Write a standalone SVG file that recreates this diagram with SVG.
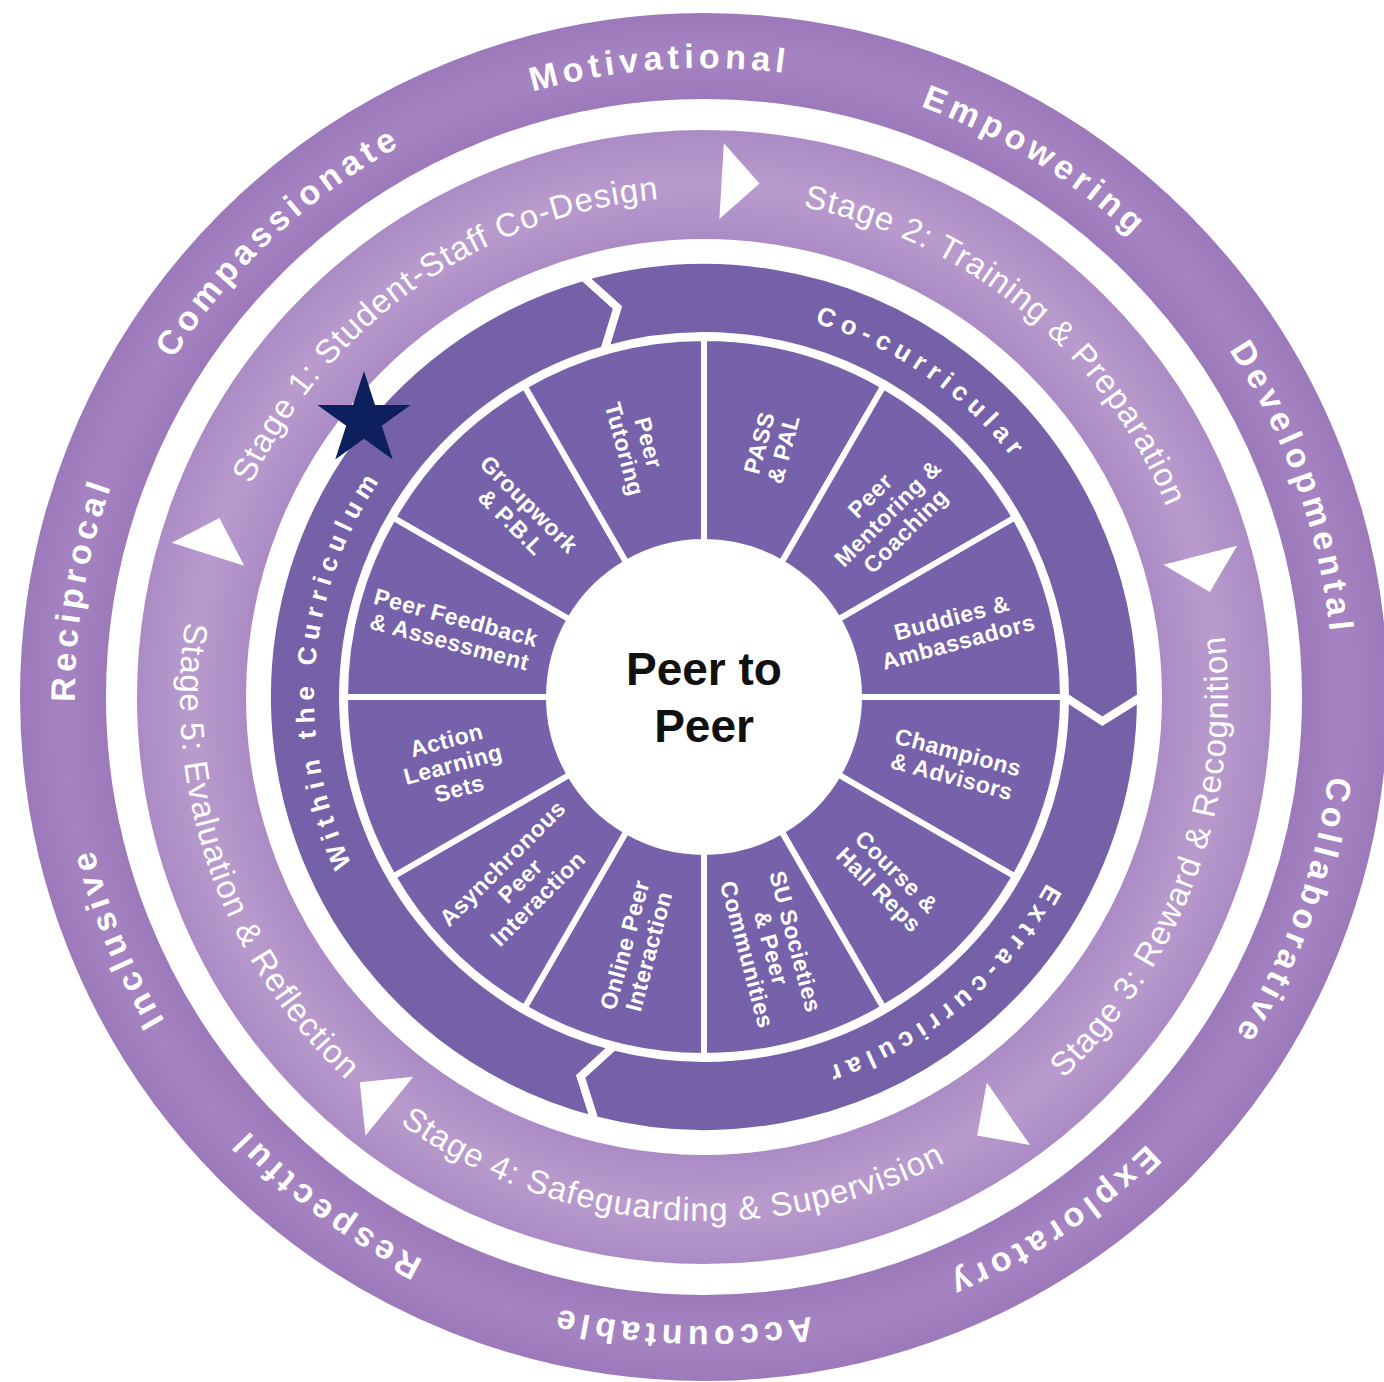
<svg xmlns="http://www.w3.org/2000/svg" width="1384" height="1382" viewBox="0 0 1384 1382">
  <defs>
    <radialGradient id="gOuter" gradientUnits="userSpaceOnUse" cx="704" cy="697" r="684">
      <stop offset="0.874" stop-color="#9c79ba"/>
      <stop offset="0.937" stop-color="#a683c1"/>
      <stop offset="1" stop-color="#9c79ba"/>
    </radialGradient>
    <radialGradient id="gStage" gradientUnits="userSpaceOnUse" cx="704" cy="697" r="567">
      <stop offset="0.808" stop-color="#ab8bc5"/>
      <stop offset="0.904" stop-color="#b99bcd"/>
      <stop offset="1" stop-color="#ab8bc5"/>
    </radialGradient>
    <!-- text baselines: clockwise = letters upright outward, anticlockwise = letters upright inward -->
    <path id="outerPath" d="M704 68 A629 629 0 1 1 704 1326 A629 629 0 1 1 704 68 A629 629 0 1 1 704 1326 A629 629 0 1 1 704 68"/>
    <path id="stageCW" d="M704 197 A500 500 0 1 1 704 1197 A500 500 0 1 1 704 197"/>
    <path id="stageCCW" d="M704 173 A524 524 0 1 0 704 1221 A524 524 0 1 0 704 173"/>
    <path id="curPath" d="M704 307 A390 390 0 1 1 704 1087 A390 390 0 1 1 704 307"/>
  </defs>
  <style>
    .val { font-family: "Liberation Sans", Arial, sans-serif; font-weight: bold; font-size: 34px; letter-spacing: 5px; fill: #ffffff; }
    .stg { font-family: "Liberation Sans", Arial, sans-serif; font-size: 33px; letter-spacing: 1px; fill: #ffffff; }
    .cur { font-family: "Liberation Sans", Arial, sans-serif; font-weight: bold; font-size: 26px; letter-spacing: 6.5px; fill: #ffffff; }
    .band { fill: #7461a8; stroke: #ffffff; stroke-width: 8; stroke-linejoin: miter; }
    .seg { fill: #7562aa; stroke: #ffffff; stroke-width: 6; }
    .seg-label { font-family: "Liberation Sans", Arial, sans-serif; font-weight: bold; font-size: 23px; letter-spacing: 0.5px; fill: #ffffff; text-anchor: middle; }
    .arrow { fill: #ffffff; }
    .hub { font-family: "Liberation Sans", Arial, sans-serif; font-weight: bold; font-size: 46px; fill: #111111; text-anchor: middle; }
  </style>

  <rect width="1384" height="1382" fill="#ffffff"/>

  <!-- outer ring of values -->
  <g id="values-ring">
    <circle cx="704" cy="697" r="641" fill="none" stroke="url(#gOuter)" stroke-width="86"/>
  </g>

  <!-- stage ring -->
  <g id="stages-ring">
    <circle cx="704" cy="697" r="512.5" fill="none" stroke="url(#gStage)" stroke-width="109"/>
  </g>

  <!-- arrowheads between the stages -->
  <g id="connectors">
    <polygon class="arrow" points="691,143 691,219 729,181" transform="rotate(3.4 704 697)"/>
    <polygon class="arrow" points="691,143 691,219 729,181" transform="rotate(75.5 704 697)"/>
    <polygon class="arrow" points="691,143 691,219 729,181" transform="rotate(145.3 704 697)"/>
    <polygon class="arrow" points="691,143 691,219 729,181" transform="rotate(219 704 697)"/>
    <polygon class="arrow" points="691,143 691,219 729,181" transform="rotate(287.5 704 697)"/>
  </g>

  <!-- curriculum band: three chevron pieces -->
  <g id="within-curriculum">
    <path class="band" d="M594.6 1120.1 A437 437 0 0 1 583.5 276.9 L617.6 307.5 L604.5 350 A361 361 0 0 0 613.6 1046.5 L580.7 1076.5 Z"/>
    <text class="cur" text-anchor="middle"><textPath href="#curPath" startOffset="1867.8">Within the Curriculum</textPath></text>
  </g>
  <g id="co-curricular">
    <path class="band" d="M583.5 276.9 A437 437 0 0 1 1141 697 L1102.3 721.3 L1065 697 A361 361 0 0 0 604.5 350 L617.6 307.5 Z"/>
    <text class="cur" text-anchor="middle"><textPath href="#curPath" startOffset="236.2">Co-curricular</textPath></text>
  </g>
  <g id="extra-curricular">
    <path class="band" d="M1141 697 A437 437 0 0 1 594.6 1120.1 L580.7 1076.5 L613.6 1046.5 A361 361 0 0 0 1065 697 L1102.3 721.3 Z"/>
    <text class="cur" text-anchor="middle"><textPath href="#curPath" startOffset="955">Extra-curricular</textPath></text>
  </g>

  <!-- activity segments -->
  <g id="seg-pass-pal">
    <path class="seg" d="M704 338 A359 359 0 0 1 883.5 386.1 L781.5 562.8 A155 155 0 0 0 704 542 Z"/>
    <text class="seg-label" transform="translate(771.3 445.9) rotate(-75)"><tspan x="0" y="-4.5">PASS</tspan><tspan x="0" y="20.5">&amp; PAL</tspan></text>
  </g>
  <g id="seg-peer-mentoring">
    <path class="seg" d="M883.5 386.1 A359 359 0 0 1 1014.9 517.5 L838.2 619.5 A155 155 0 0 0 781.5 562.8 Z"/>
    <text class="seg-label" transform="translate(887.8 513.2) rotate(-45)"><tspan x="0" y="-17">Peer</tspan><tspan x="0" y="8">Mentoring &amp;</tspan><tspan x="0" y="33">Coaching</tspan></text>
  </g>
  <g id="seg-buddies">
    <path class="seg" d="M1014.9 517.5 A359 359 0 0 1 1063 697 L859 697 A155 155 0 0 0 838.2 619.5 Z"/>
    <text class="seg-label" transform="translate(955.1 629.7) rotate(-15)"><tspan x="0" y="-4.5">Buddies &amp;</tspan><tspan x="0" y="20.5">Ambassadors</tspan></text>
  </g>
  <g id="seg-champions">
    <path class="seg" d="M1063 697 A359 359 0 0 1 1014.9 876.5 L838.2 774.5 A155 155 0 0 0 859 697 Z"/>
    <text class="seg-label" transform="translate(955.1 764.3) rotate(15)"><tspan x="0" y="-4.5">Champions</tspan><tspan x="0" y="20.5">&amp; Advisors</tspan></text>
  </g>
  <g id="seg-course-reps">
    <path class="seg" d="M1014.9 876.5 A359 359 0 0 1 883.5 1007.9 L781.5 831.2 A155 155 0 0 0 838.2 774.5 Z"/>
    <text class="seg-label" transform="translate(887.8 880.8) rotate(45)"><tspan x="0" y="-4.5">Course &amp;</tspan><tspan x="0" y="20.5">Hall Reps</tspan></text>
  </g>
  <g id="seg-su-societies">
    <path class="seg" d="M883.5 1007.9 A359 359 0 0 1 704 1056 L704 852 A155 155 0 0 0 781.5 831.2 Z"/>
    <text class="seg-label" transform="translate(771.3 948.1) rotate(75)"><tspan x="0" y="-17">SU Societies</tspan><tspan x="0" y="8">&amp; Peer</tspan><tspan x="0" y="33">Communities</tspan></text>
  </g>
  <g id="seg-online">
    <path class="seg" d="M704 1056 A359 359 0 0 1 524.5 1007.9 L626.5 831.2 A155 155 0 0 0 704 852 Z"/>
    <text class="seg-label" transform="translate(636.7 948.1) rotate(-75)"><tspan x="0" y="-4.5">Online Peer</tspan><tspan x="0" y="20.5">Interaction</tspan></text>
  </g>
  <g id="seg-asynchronous">
    <path class="seg" d="M524.5 1007.9 A359 359 0 0 1 393.1 876.5 L569.8 774.5 A155 155 0 0 0 626.5 831.2 Z"/>
    <text class="seg-label" transform="translate(520.2 880.8) rotate(-45)"><tspan x="0" y="-17">Asynchronous</tspan><tspan x="0" y="8">Peer</tspan><tspan x="0" y="33">Interaction</tspan></text>
  </g>
  <g id="seg-action-learning">
    <path class="seg" d="M393.1 876.5 A359 359 0 0 1 345 697 L549 697 A155 155 0 0 0 569.8 774.5 Z"/>
    <text class="seg-label" transform="translate(452.9 764.3) rotate(-15)"><tspan x="0" y="-17">Action</tspan><tspan x="0" y="8">Learning</tspan><tspan x="0" y="33">Sets</tspan></text>
  </g>
  <g id="seg-peer-feedback">
    <path class="seg" d="M345 697 A359 359 0 0 1 393.1 517.5 L569.8 619.5 A155 155 0 0 0 549 697 Z"/>
    <text class="seg-label" transform="translate(452.9 629.7) rotate(15)"><tspan x="0" y="-4.5">Peer Feedback</tspan><tspan x="0" y="20.5">&amp; Assessment</tspan></text>
  </g>
  <g id="seg-groupwork">
    <path class="seg" d="M393.1 517.5 A359 359 0 0 1 524.5 386.1 L626.5 562.8 A155 155 0 0 0 569.8 619.5 Z"/>
    <text class="seg-label" transform="translate(520.2 513.2) rotate(45)"><tspan x="0" y="-4.5">Groupwork</tspan><tspan x="0" y="20.5">&amp; P.B.L</tspan></text>
  </g>
  <g id="seg-peer-tutoring">
    <path class="seg" d="M524.5 386.1 A359 359 0 0 1 704 338 L704 542 A155 155 0 0 0 626.5 562.8 Z"/>
    <text class="seg-label" transform="translate(636.7 445.9) rotate(75)"><tspan x="0" y="-4.5">Peer</tspan><tspan x="0" y="20.5">Tutoring</tspan></text>
  </g>

  <!-- hub -->
  <g id="hub">
    <circle cx="704" cy="697" r="155" fill="#ffffff"/>
    <text class="hub" x="704" y="685">Peer to</text>
    <text class="hub" x="704" y="742">Peer</text>
  </g>

  <!-- stage labels -->
  <g id="stage-1"><text class="stg" text-anchor="middle"><textPath href="#stageCW" startOffset="2836.1">Stage 1: Student-Staff Co-Design</textPath></text></g>
  <g id="stage-2"><text class="stg" text-anchor="middle"><textPath href="#stageCW" startOffset="345.6">Stage 2: Training &amp; Preparation</textPath></text></g>
  <g id="stage-3"><text class="stg" text-anchor="middle"><textPath href="#stageCCW" startOffset="2286.4">Stage 3: Reward &amp; Recognition</textPath></text></g>
  <g id="stage-4"><text class="stg" text-anchor="middle"><textPath href="#stageCCW" startOffset="1609.6">Stage 4: Safeguarding &amp; Supervision</textPath></text></g>
  <g id="stage-5"><text class="stg" text-anchor="middle"><textPath href="#stageCCW" startOffset="1000.5">Stage 5: Evaluation &amp; Reflection</textPath></text></g>

  <!-- value labels -->
  <g id="value-motivational"><text class="val" text-anchor="middle"><textPath href="#outerPath" startOffset="3908.2">Motivational</textPath></text></g>
  <g id="value-empowering"><text class="val" text-anchor="middle"><textPath href="#outerPath" startOffset="348">Empowering</textPath></text></g>
  <g id="value-developmental"><text class="val" text-anchor="middle"><textPath href="#outerPath" startOffset="774">Developmental</textPath></text></g>
  <g id="value-collaborative"><text class="val" text-anchor="middle"><textPath href="#outerPath" startOffset="1207.6">Collaborative</textPath></text></g>
  <g id="value-exploratory"><text class="val" text-anchor="middle"><textPath href="#outerPath" startOffset="1607.2">Exploratory</textPath></text></g>
  <g id="value-accountable"><text class="val" text-anchor="middle"><textPath href="#outerPath" startOffset="1998">Accountable</textPath></text></g>
  <g id="value-respectful"><text class="val" text-anchor="middle"><textPath href="#outerPath" startOffset="2378.9">Respectful</textPath></text></g>
  <g id="value-inclusive"><text class="val" text-anchor="middle"><textPath href="#outerPath" startOffset="2719.3">Inclusive</textPath></text></g>
  <g id="value-reciprocal"><text class="val" text-anchor="middle"><textPath href="#outerPath" startOffset="3071.6">Reciprocal</textPath></text></g>
  <g id="value-compassionate"><text class="val" text-anchor="middle"><textPath href="#outerPath" startOffset="3480">Compassionate</textPath></text></g>

  <!-- marker star -->
  <g id="star">
    <polygon fill="#0e1f5e" points="364,371 375,404.9 410.6,404.9 381.8,425.8 392.8,459.6 364,438.7 335.2,459.6 346.2,425.8 317.4,404.9 353,404.9"/>
  </g>
</svg>
